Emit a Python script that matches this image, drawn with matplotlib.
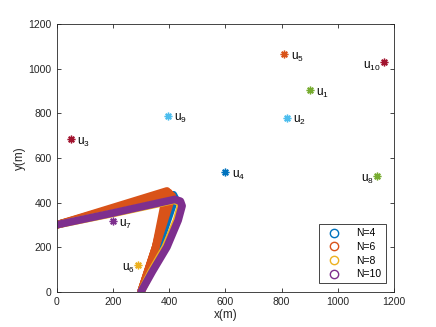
import matplotlib
matplotlib.use('Agg')
import matplotlib.pyplot as plt
from matplotlib.lines import Line2D
import numpy as np

# user positions (m)
user_x = [900, 820, 50, 600, 810, 290, 200, 1140, 395, 1165]
user_y = [905, 780, 685, 535, 1065, 120, 315, 520, 790, 1030]
user_colors = ['#77AC30', '#4DBEEE', '#A2142F', '#0072BD', '#D95319',
               '#EDB120', '#7E2F8E', '#77AC30', '#4DBEEE', '#A2142F']
# labels placed to the left of the marker for these users
left_labels = [6, 8, 10]

# UAV trajectories (waypoints)
traj_n4_x = [0, 415, 421, 362, 300]
traj_n4_y = [300, 435, 420, 200, 0]
traj_n6_corners = [(392, 452), (399, 445), (405, 437), (411, 430)]
traj_n6_mid = (352, 200)
traj_n8_x = [0, 200, 380, 417, 435, 440, 426, 386, 336, 300]
traj_n8_y = [300, 351, 400, 410, 402, 383, 320, 200, 90, 0]
traj_n10_x = [0, 200, 380, 420, 440, 446, 432, 392, 340, 300]
traj_n10_y = [300, 353, 403, 414, 406, 385, 320, 200, 90, 0]

legend_labels = ['N=4', 'N=6', 'N=8', 'N=10']
traj_colors = ['#0072BD', '#D95319', '#EDB120', '#7E2F8E']

plt.rcParams['font.family'] = ['Liberation Sans', 'DejaVu Sans']
plt.rcParams['mathtext.fontset'] = 'custom'
plt.rcParams['mathtext.rm'] = 'Liberation Sans'
plt.rcParams['mathtext.it'] = 'Liberation Sans'

axis_gray = '#262626'

fig = plt.figure(figsize=(4.36, 3.27), dpi=100)
ax = fig.add_axes([0.13, 0.108, 0.774, 0.818])

lw = 5.5
band = dict(lw=lw, solid_capstyle='round', solid_joinstyle='round')
ax.plot(traj_n4_x, traj_n4_y, color=traj_colors[0], **band)
for cx, cy in traj_n6_corners:
    ax.plot([0, cx, traj_n6_mid[0], 300], [300, cy, traj_n6_mid[1], 0],
            color=traj_colors[1], **band)
ax.plot(traj_n8_x, traj_n8_y, color=traj_colors[2], **band)
ax.plot(traj_n10_x, traj_n10_y, color=traj_colors[3], **band)

for i in range(len(user_x)):
    ax.plot(user_x[i], user_y[i], marker=(8, 2, 0), color=user_colors[i],
            markersize=5.5, mew=1.0, ls='none')
    k = i + 1
    lab = r'u$_{%d}$' % k
    if k in left_labels:
        ax.text(user_x[i] - 12, user_y[i] - 18, lab, ha='right', va='center',
                fontsize=8.5, color='k')
    else:
        ax.text(user_x[i] + 22, user_y[i] - 14, lab, ha='left', va='center',
                fontsize=8.5, color='k')

ax.set_xlim(0, 1200)
ax.set_ylim(0, 1200)
ax.set_xticks(np.arange(0, 1201, 200))
ax.set_yticks(np.arange(0, 1201, 200))
ax.set_xlabel('x(m)', fontsize=8.5, color=axis_gray, labelpad=2)
ax.set_ylabel('y(m)', fontsize=8.5, color=axis_gray, labelpad=2)
ax.tick_params(direction='in', top=True, right=True, length=3, width=0.6,
               labelsize=7.5, colors=axis_gray)
for s in ax.spines.values():
    s.set_color(axis_gray)
    s.set_linewidth(0.6)

handles = [Line2D([], [], ls='none', marker='o', markersize=6,
                  markerfacecolor='none', markeredgecolor=c, mew=1.0)
           for c in traj_colors]
leg = ax.legend(handles, legend_labels, loc='lower right', fontsize=7.5,
                fancybox=False, edgecolor=axis_gray, framealpha=1,
                borderaxespad=0.8, handletextpad=1.2, labelspacing=0.35)
leg.get_frame().set_linewidth(0.6)

fig.savefig('out.png', dpi=100)
